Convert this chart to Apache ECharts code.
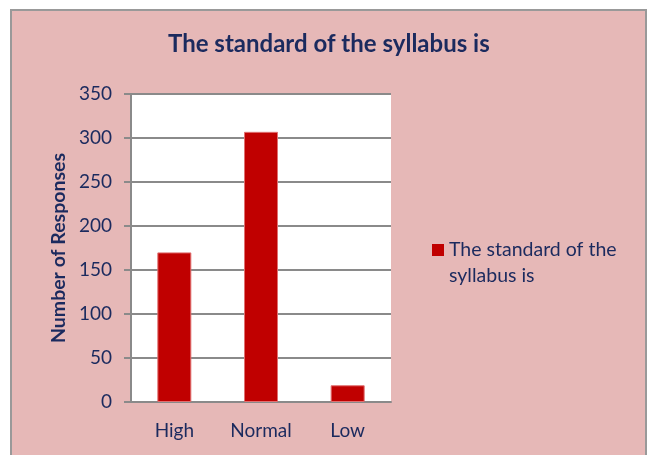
<!DOCTYPE html>
<html>
<head>
<meta charset="utf-8">
<script src="https://cdn.jsdelivr.net/npm/echarts@6/dist/echarts.min.js"></script>
<style>
  html, body { margin: 0; padding: 0; background: #fff; }
  #main { width: 647px; height: 455px; }
</style>
</head>
<body>
<div id="main"></div>
<script>
var categories = ['High', 'Normal', 'Low'];
var responses = [170, 307, 19];
var seriesName = 'The standard of the syllabus is';

var navy = '#1b2a5e';
var gridGray = '#8a8a8a';
var font = 'Lato';

var chart = echarts.init(document.getElementById('main'), null, { renderer: 'canvas' });

var option = {
    backgroundColor: '#fff',
    animation: false,
    graphic: [{
        type: 'rect',
        z: -10,
        shape: { x: 11, y: 10, width: 635, height: 470 },
        style: { fill: '#e6b8b7', stroke: '#999999', lineWidth: 2 }
    }],
    title: {
        text: 'The standard of the syllabus is',
        left: 163,
        top: 27,
        textStyle: { color: navy, fontFamily: font, fontWeight: 'bold', fontSize: 24 }
    },
    legend: {
        left: 427,
        top: 206,
        itemWidth: 12,
        itemHeight: 12,
        icon: 'rect',
        data: [seriesName],
        itemStyle: { borderWidth: 0 },
        // blank first line keeps the swatch level with the first text line
        formatter: function () {
            return ' \nThe standard of the\nsyllabus is';
        },
        textStyle: { color: navy, fontFamily: font, fontSize: 19.5, lineHeight: 26 }
    },
    grid: {
        left: 131, top: 94, width: 260, height: 308,
        show: true, backgroundColor: '#fff', borderWidth: 0
    },
    xAxis: {
        type: 'category',
        data: categories,
        axisLine: { show: true, lineStyle: { color: gridGray, width: 2 } },
        axisTick: { show: false },
        axisLabel: { color: navy, fontFamily: font, fontSize: 19, margin: 19 }
    },
    yAxis: {
        type: 'value',
        min: 0,
        max: 350,
        interval: 50,
        name: 'Number of Responses',
        nameLocation: 'middle',
        nameGap: 62,
        nameTextStyle: { color: navy, fontFamily: font, fontWeight: 'bold', fontSize: 19.5 },
        axisLine: { show: true, lineStyle: { color: gridGray, width: 2 } },
        axisTick: { show: true, length: 7, lineStyle: { color: gridGray, width: 2 } },
        axisLabel: { color: navy, fontFamily: font, fontSize: 19, margin: 19 },
        splitLine: { show: true, lineStyle: { color: gridGray, width: 2 } }
    },
    series: [{
        name: seriesName,
        type: 'bar',
        data: responses,
        barWidth: 34,
        itemStyle: { color: '#c00000', borderColor: '#e07070', borderWidth: 1 }
    }]
};

chart.setOption(option);
</script>
</body>
</html>
